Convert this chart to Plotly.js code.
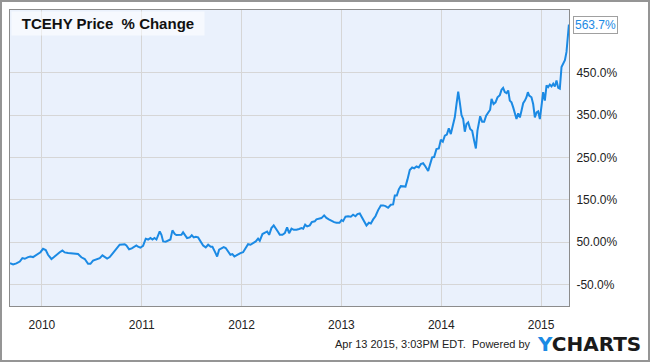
<!DOCTYPE html>
<html>
<head>
<meta charset="utf-8">
<script src="https://cdn.plot.ly/plotly-3.0.1.min.js"></script>
<style>
  html, body { margin: 0; padding: 0; background: #fff; }
  #wrap { position: relative; width: 650px; height: 362px; }
  #chart { width: 650px; height: 362px; }
  #frame { position: absolute; left: 0; top: 0; width: 650px; height: 362px; box-sizing: border-box; border: 2px solid #959595; pointer-events: none; }
</style>
</head>
<body>
<div id="wrap"><div id="chart"></div><div id="frame"></div></div>
<script>
// Decimal-year positions of the readings and the % change
const years = [
  2009.68, 2009.711, 2009.744, 2009.778, 2009.804, 2009.828, 2009.861, 2009.884, 2009.911, 2009.938,
  2009.961, 2009.985, 2010.011, 2010.038, 2010.061, 2010.095, 2010.118, 2010.152, 2010.178, 2010.205,
  2010.228, 2010.262, 2010.295, 2010.329, 2010.362, 2010.395, 2010.429, 2010.462, 2010.486, 2010.512,
  2010.546, 2010.579, 2010.606, 2010.629, 2010.653, 2010.679,
  2010.706, 2010.729, 2010.753, 2010.779, 2010.806, 2010.829, 2010.846, 2010.873, 2010.900, 2010.923,
  2010.946, 2010.963, 2010.986, 2011.013, 2011.040, 2011.063, 2011.087, 2011.107, 2011.127, 2011.147,
  2011.163, 2011.180, 2011.197, 2011.214, 2011.240, 2011.267, 2011.287, 2011.307, 2011.331, 2011.347,
  2011.374, 2011.397, 2011.414, 2011.434, 2011.454, 2011.481, 2011.501, 2011.521, 2011.541, 2011.564,
  2011.588, 2011.615, 2011.641, 2011.665, 2011.691,
  2011.708, 2011.731, 2011.755, 2011.775, 2011.798, 2011.821, 2011.841, 2011.865, 2011.888, 2011.908,
  2011.928, 2011.948, 2011.968, 2011.988, 2012.015, 2012.042, 2012.065, 2012.089, 2012.115, 2012.142,
  2012.165, 2012.182, 2012.209, 2012.236, 2012.256, 2012.276, 2012.299, 2012.322, 2012.343, 2012.366,
  2012.383, 2012.409, 2012.433, 2012.456, 2012.476, 2012.500, 2012.523, 2012.550, 2012.576, 2012.600,
  2012.617, 2012.637, 2012.657, 2012.683, 2012.703, 2012.733,
  2012.750, 2012.773, 2012.800, 2012.827, 2012.850, 2012.874, 2012.900, 2012.927, 2012.950, 2012.981,
  2013.001, 2013.017, 2013.041, 2013.067, 2013.094, 2013.117, 2013.141, 2013.161, 2013.184, 2013.208,
  2013.228, 2013.251, 2013.275, 2013.295, 2013.318, 2013.341, 2013.368, 2013.395, 2013.418, 2013.442,
  2013.468, 2013.495, 2013.518, 2013.535, 2013.555, 2013.575, 2013.595, 2013.619, 2013.642, 2013.662,
  2013.685, 2013.709, 2013.729, 2013.752, 2013.775, 2013.795, 2013.819, 2013.842, 2013.869, 2013.889,
  2013.909, 2013.929, 2013.952, 2013.976, 2013.996, 2014.016, 2014.036, 2014.056, 2014.076, 2014.096,
  2014.119, 2014.136, 2014.153, 2014.170, 2014.186, 2014.203, 2014.220, 2014.236, 2014.253, 2014.270,
  2014.290, 2014.310, 2014.330, 2014.347, 2014.363, 2014.377, 2014.390, 2014.410, 2014.430, 2014.450,
  2014.470, 2014.490, 2014.504, 2014.524, 2014.544, 2014.564, 2014.587,
  2014.604, 2014.620, 2014.637, 2014.654, 2014.671, 2014.687, 2014.704, 2014.721, 2014.737, 2014.754,
  2014.771, 2014.788, 2014.804, 2014.821, 2014.838, 2014.854, 2014.868, 2014.881, 2014.904, 2014.921,
  2014.938, 2014.955, 2014.971, 2014.988, 2015.005, 2015.021, 2015.038, 2015.055, 2015.071, 2015.088,
  2015.105, 2015.122, 2015.138, 2015.155, 2015.172, 2015.188, 2015.205, 2015.222, 2015.239, 2015.255,
  2015.272, 2015.279
];
const pctChange = [
  0, -3, -0.5, 4, 12, 10.5, 14.5, 16, 14.5, 18.5,
  21.6, 26, 34, 31, 20, 10, 14, 22, 26, 30,
  25.5, 24, 23, 22, 21.6, 14, 10, -1.3, -1.3, 6,
  10, 12, 18.5, 14.5, 11, 14.5,
  23, 29.5, 36, 43.7, 44.5, 45, 42, 33, 35, 39,
  42, 39, 36.6, 41, 58, 56, 59.5, 56, 59.5, 56,
  65, 75, 67, 51.6, 51, 53, 56, 77.6, 69, 66.6,
  66, 67, 73, 67, 59.5, 61, 66, 61, 62.6, 61,
  53, 42, 37.4, 43.7, 39,
  39, 28, 16, 32, 36, 38, 36, 28, 20, 21.6,
  16, 18.4, 21.6, 24, 26, 36, 45, 43.7, 47, 51.6,
  58, 53, 69, 73, 75, 67, 83, 89.5, 83, 73.7,
  67, 67, 71, 84.7, 71, 81.6, 79, 79, 80.8, 83,
  81.6, 91, 87, 89.5, 97, 99,
  103.5, 105, 106.6, 113, 107, 103.5, 99.5, 97, 95.6, 95.6,
  102, 99.5, 110, 111, 110, 114.5, 111, 116, 117.6, 106.6,
  97, 89, 95.6, 94, 103.5, 111, 125.5, 136.6, 136.6, 135,
  131, 138, 139, 160, 160, 174.5, 182, 181, 181, 198,
  220, 226, 224, 228.5, 226, 234, 236, 228.5, 218, 234,
  250, 250.6, 269.5, 271, 291.6, 287, 301, 304, 318.4, 305,
  326, 344.5, 376, 405, 380, 350, 340.5, 310.6, 328.7, 332.6,
  317, 313, 289, 271, 313, 332.6, 347, 334, 334, 348.4,
  354.7, 362.6, 388, 376, 380, 391.8, 397,
  409.5, 414, 404, 401.6, 408, 384, 380, 368, 352, 340.5,
  354, 344.4, 360, 377.8, 384, 392, 404, 396, 392, 376,
  344.4, 356, 358.7, 340.5, 372, 404, 384, 420, 416, 422,
  417.5, 423.8, 417.5, 431.7, 414, 412, 463.5, 471.4, 479.4, 499,
  554.8, 563.7
];
const xTickVals = [2010, 2011, 2012, 2013, 2014, 2015];
const xTickText = ['2010', '2011', '2012', '2013', '2014', '2015'];
const yTickVals = [-50, 50, 150, 250, 350, 450];
const yTickText = ['-50.0%', '50.00%', '150.0%', '250.0%', '350.0%', '450.0%'];
const titleText = 'TCEHY Price\u00a0 % Change';
const lastLabel = pctChange[pctChange.length - 1].toFixed(1) + '%';

const lineColor = '#1b8ae4';
const gridColor = '#d6d6d6';

const trace = {
  x: years, y: pctChange, type: 'scatter', mode: 'lines',
  line: { color: lineColor, width: 2 }, hoverinfo: 'skip'
};

const layout = {
  width: 650, height: 362,
  margin: { l: 10, r: 81, t: 10, b: 56 },
  paper_bgcolor: '#ffffff',
  plot_bgcolor: '#eaf1fc',
  showlegend: false,
  font: { family: 'Liberation Sans, Arial, sans-serif', size: 12, color: '#222' },
  xaxis: {
    range: [2009.68, 2015.28],
    tickvals: xTickVals, ticktext: xTickText,
    showgrid: true, gridcolor: gridColor, gridwidth: 1,
    zeroline: false,
    showline: true, mirror: true, linecolor: '#8c8c8c', linewidth: 1,
    ticks: 'outside', ticklen: 8, tickcolor: 'rgba(0,0,0,0)',
    tickfont: { size: 12, color: '#222' }
  },
  yaxis: {
    range: [-101, 598],
    side: 'right',
    tickvals: yTickVals, ticktext: yTickText,
    showgrid: true, gridcolor: gridColor, gridwidth: 1,
    zeroline: false,
    showline: true, mirror: true, linecolor: '#8c8c8c', linewidth: 1,
    ticks: 'outside', ticklen: 4, tickcolor: 'rgba(0,0,0,0)',
    tickfont: { size: 12, color: '#222' }
  },
  annotations: [
    {
      xref: 'paper', yref: 'paper', x: 0, y: 1, xanchor: 'left', yanchor: 'top',
      text: '<b>' + titleText + '</b>', showarrow: false, align: 'center',
      font: { size: 15, color: '#111', family: 'Liberation Sans, Arial, sans-serif' },
      bgcolor: 'rgba(255,255,255,0.55)', borderpad: 3, width: 186, height: 17,
      xshift: 1, yshift: -1
    },
    {
      xref: 'x', yref: 'y', x: years[years.length - 1], y: pctChange[pctChange.length - 1],
      xanchor: 'left', yanchor: 'middle', text: lastLabel, showarrow: false,
      font: { size: 12, color: lineColor }, bgcolor: '#ffffff',
      bordercolor: '#a0a0a0', borderwidth: 1, borderpad: 1, xshift: 4
    },
    {
      xref: 'paper', yref: 'paper', x: 0.936, y: -0.13, xanchor: 'right', yanchor: 'middle',
      text: 'Apr 13 2015, 3:03PM EDT.\u00a0 Powered by', showarrow: false,
      font: { size: 11, color: '#222', family: 'Liberation Sans, Arial, sans-serif' }
    },
    {
      xref: 'paper', yref: 'paper', x: 1.132, y: -0.128, xanchor: 'right', yanchor: 'middle',
      text: '<b><span style="color:#1b8ae4">Y</span>CHARTS</b>', showarrow: false,
      font: { size: 20, color: '#1a1a1a', family: 'DejaVu Sans, sans-serif' }
    }
  ]
};

Plotly.newPlot('chart', [trace], layout, { displayModeBar: false, staticPlot: true });
</script>
</body>
</html>
